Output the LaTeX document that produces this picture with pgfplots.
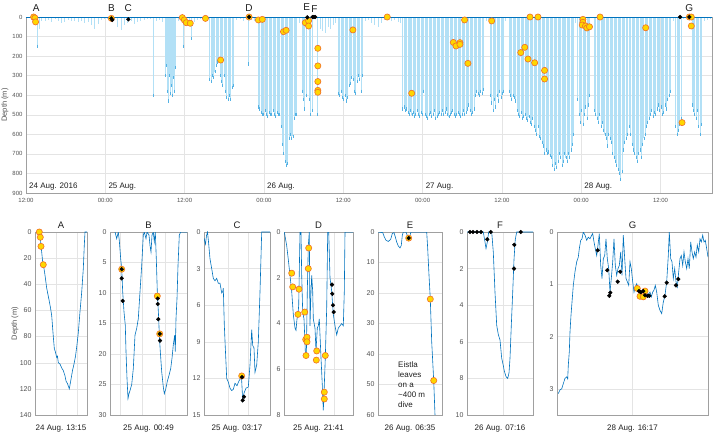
\documentclass[border=0pt]{standalone}
\usepackage{pgfplots}
\usepackage{pgfplotstable}
\pgfplotsset{compat=1.18}
\usepackage{fontspec}
\setmainfont{Liberation Sans}

\definecolor{lineblue}{RGB}{0,114,189}
\definecolor{spike}{RGB}{178,224,246}
\definecolor{spiketip}{RGB}{85,178,228}
\definecolor{myyellow}{RGB}{255,214,0}
\definecolor{myorange}{RGB}{240,110,40}
\definecolor{gridgray}{RGB}{228,228,228}
\definecolor{axgray}{RGB}{160,160,160}
\definecolor{ticktext}{RGB}{80,80,80}
\definecolor{labtext}{RGB}{30,30,30}

\pgfplotstableread{
t d
12.4 15
12.7 25
13.0 40
13.6 60
13.9 20
14.5 20
15.0 15
15.5 25
16.0 12
16.5 20
17.0 30
17.5 25
18.0 15
18.5 20
19.0 18
19.5 25
20.0 20
20.5 30
21.0 25
21.5 40
22.0 60
22.5 35
23.0 15
23.5 10
24.0 8
24.5 20
25.0 15
25.5 50
26.0 65
26.5 40
27.0 30
27.5 20
28.0 35
28.5 25
29.0 20
29.5 15
30.0 12
30.5 10
31.3 20
31.8 15
32.3 25
34.6 20
35.0 15
35.9 30
36.3 20
37.1 25
37.5 15
38.0 10
38.5 20
39.0 15
43.5 15
44.0 10
44.5 20
45.7 15
46.2 20
53.0 30
54.2 30
55.2 10
56.1 60
56.5 70
56.9 80
57.3 50
57.7 60
58.1 40
58.5 30
62.9 20
63.4 15
63.9 30
64.4 40
64.9 50
65.4 30
65.9 15
66.4 10
66.9 20
67.4 15
67.9 25
68.3 30
81.2 20
81.6 15
84.2 20
94.8 30
109.5 20
111.0 10
111.5 5
112.0 5
114.2 20
114.7 15
115.2 10
}\shallowtab

\pgfplotstableread{
t d
13.3 150
30.9 400
32.7 300
32.85 250
33.0 380
33.15 430
33.3 300
33.45 390
33.6 350
33.75 400
33.9 310
34.05 380
34.2 260
35.5 150
36.7 110
39.4 320
39.6 330
39.8 300
40.0 310
40.2 280
40.4 250
40.6 230
40.8 220
41.0 300
41.2 330
41.4 350
41.6 300
41.8 380
42.0 410
42.2 420
42.4 400
42.6 420
42.8 360
43.0 350
45.2 240
46.8 460
47.0 470
47.2 490
47.4 500
47.6 500
47.8 480
48.0 500
48.2 510
48.4 490
48.6 500
48.8 500
49.0 480
49.2 500
49.4 510
49.6 490
49.8 500
50.0 500
50.2 560
50.4 650
50.6 700
50.8 740
51.0 760
51.2 750
51.4 620
51.6 600
51.8 620
52.0 610
52.2 520
52.4 500
52.6 500
53.4 380
53.6 420
53.8 470
54.0 400
54.5 420
54.7 500
54.9 480
55.7 500
58.9 390
59.1 400
59.3 380
59.5 410
59.7 420
59.9 400
60.1 430
60.3 410
60.5 350
60.7 340
60.9 310
61.1 320
61.3 380
61.5 390
61.7 330
61.9 300
62.1 320
62.3 380
62.5 300
68.6 470
68.8 460
69.0 480
69.2 470
69.4 490
69.6 500
69.8 480
70.0 500
70.2 490
70.4 510
70.6 500
70.8 480
71.0 500
71.2 510
71.4 490
71.6 500
71.8 380
72.0 500
72.2 510
72.4 520
72.6 500
72.8 490
73.0 510
73.2 500
73.4 480
73.6 520
73.8 510
74.0 500
74.2 490
74.4 500
74.6 480
74.8 500
75.0 490
75.2 470
75.4 500
75.6 510
75.8 500
76.0 490
76.2 480
76.4 500
76.6 510
76.8 500
77.0 490
77.2 500
77.4 510
77.6 500
77.8 480
78.0 500
78.2 490
78.4 470
78.6 450
78.8 480
79.0 500
79.2 490
79.4 470
79.6 400
79.8 380
80.0 390
80.2 400
80.4 380
80.6 390
80.8 370
81.9 400
82.1 440
82.3 480
82.5 420
82.7 460
82.9 400
83.1 430
83.3 380
83.5 410
83.7 390
83.9 380
84.7 380
84.9 400
85.1 420
85.3 400
85.5 410
85.7 430
85.9 480
86.1 500
86.3 510
86.5 490
86.7 520
86.9 510
87.1 500
87.3 520
87.5 530
87.7 510
87.9 540
88.1 550
88.3 520
88.5 560
88.7 580
88.9 600
89.1 560
89.3 610
89.5 620
89.7 640
89.9 660
90.1 700
90.3 680
90.5 700
90.7 690
90.9 710
91.1 720
91.3 760
91.5 780
91.7 750
91.9 770
92.1 740
92.3 700
92.5 720
92.7 760
92.9 740
93.1 700
93.3 720
93.5 740
93.7 700
93.9 720
94.1 680
94.3 650
94.5 600
95.1 420
95.3 500
95.5 540
95.7 480
95.9 550
96.1 500
96.3 460
96.5 520
96.7 450
96.9 400
97.6 480
97.8 500
98.0 520
98.2 540
98.4 500
98.6 560
98.8 540
99.0 580
99.2 600
99.4 620
99.6 660
99.8 600
100.0 620
100.2 640
100.4 700
100.6 720
100.8 740
101.0 760
101.2 780
101.4 800
101.6 830
101.8 790
102.0 680
102.2 640
102.4 620
102.6 600
102.9 560
103.1 600
103.3 650
103.5 680
103.7 700
103.9 720
104.1 740
104.3 700
104.5 680
104.7 720
104.9 650
105.1 620
105.3 600
105.5 560
105.7 540
105.9 520
106.1 500
106.3 480
106.5 510
106.7 490
106.9 500
107.1 470
107.3 450
107.5 480
107.7 460
107.9 500
108.1 490
108.3 450
108.5 470
108.7 420
108.9 400
109.1 380
109.9 560
110.1 600
110.3 580
110.5 550
110.7 520
112.4 450
112.6 480
112.8 500
113.0 520
113.2 480
113.4 560
113.6 600
113.8 550
}\deeptab

\pgfplotstableread{
t d
12.8 0
13.0 5
13.1 25
24.56 7
35.3 3
35.6 15
35.9 29
36.5 32
38.8 7
41.1 220
45.4 0
46.8 15
47.4 12
50.6 75
51.0 68
53.9 29
54.4 19
54.4 46
55.8 160
55.8 250
55.8 330
55.8 375
55.8 385
61.1 66
66.3 0
70.0 390
76.3 130
76.7 148
77.3 131
77.3 140
78.0 15
78.5 237
82.1 20
86.5 182
87.1 155
87.6 215
87.9 0
88.6 234
89.1 0
90.1 273
90.1 317
95.9 12
95.9 27
95.8 41
96.3 46
96.5 56
96.9 50
98.5 0
105.4 55
110.9 540
112.0 0
112.3 0
112.3 46
}\topyellow

\pgfplotstableread{
t d
24.56 7
24.7 15
27.13 12
45.4 0
54.2 2
55.0 0
55.2 0
55.4 0
110.6 0
112.0 0
}\topblack

\pgfplotsset{
  every axis/.append style={
    scale only axis, y dir=reverse,
    axis line style={axgray, line width=0.4pt},
    major tick length=0pt, minor tick length=0pt,
    grid style={gridgray, line width=0.4pt},
    /pgf/number format/assume math mode=true,
  },
  ymk/.style={only marks, mark=*, mark size=3.1pt, mark options={fill=myyellow, draw=myorange, line width=0.6pt}},
  bmk/.style={only marks, mark=*, mark size=1.9pt, mark options={fill=black, draw=black}},
  prof/.style={lineblue, line width=0.6pt},
  lower/.style={
    anchor=south west, height=183pt, ymin=0, xmin=0,
    grid=major, xticklabels={},
    tick label style={font=\fontsize{7}{8}\selectfont, text=ticktext},
    every axis title/.style={at={(0.5,1)}, anchor=south, inner sep=0pt, yshift=3.5pt, font=\fontsize{9.5}{11}\selectfont, text=labtext},
    every axis x label/.style={at={(axis description cs:0.5,0)}, anchor=north, inner sep=0pt, yshift=-10pt, font=\fontsize{8}{9}\selectfont, text=labtext},
  },
}

\begin{document}
\begin{tikzpicture}
\useasboundingbox (0,0) rectangle (713pt,433pt);

% ---------------- top overview ----------------
\begin{axis}[
  at={(26pt,240pt)}, anchor=south west, width=686pt, height=176pt,
  xmin=11.65, xmax=115.43, ymin=0, ymax=900,
  xtick={11.65,23.65,35.65,47.65,59.65,71.65,83.65,95.65,107.65},
  xticklabels={12:00,00:00,12:00,00:00,12:00,00:00,12:00,00:00,12:00},
  ytick={0,100,...,900},
  grid=major, clip=false,
  tick label style={font=\fontsize{6}{7}\selectfont, text=ticktext},
  xticklabel style={yshift=-2pt},
  ylabel={Depth (m)},
  ylabel style={at={(axis description cs:-0.0306,0.5)}, anchor=center, font=\fontsize{7.5}{8}\selectfont, text=ticktext},
]
\addplot[ycomb, spike, line width=0.4pt] table {\shallowtab};
\addplot[ycomb, spike, line width=0.45pt] table {\deeptab};
\addplot[only marks, mark=|, mark size=1.6pt, mark options={spiketip, line width=0.4pt}] table {\deeptab};
\addplot[lineblue, line width=0.8pt] coordinates {(11.65,3) (115.43,3)};
\addplot[ymk] table {\topyellow};
\addplot[bmk] table {\topblack};
\foreach \lab/\tt/\dd in {A/13.2/-45, B/24.56/-45, C/27.13/-45, D/45.4/-45, E/54.1/-52, F/55.3/-40, G/112.0/-45}{
  \edef\temp{\noexpand\node[font=\noexpand\fontsize{10}{12}\noexpand\selectfont, text=labtext] at (axis cs:\tt,\dd) {\lab};}
  \temp
}
\node[anchor=west, inner sep=1pt, font=\fontsize{8}{9}\selectfont, text=labtext] at (axis cs:11.95,868) {24 Aug. 2016};
\node[anchor=west, inner sep=1pt, font=\fontsize{8}{9}\selectfont, text=labtext] at (axis cs:23.95,868) {25 Aug.};
\node[anchor=west, inner sep=1pt, font=\fontsize{8}{9}\selectfont, text=labtext] at (axis cs:47.95,868) {26 Aug.};
\node[anchor=west, inner sep=1pt, font=\fontsize{8}{9}\selectfont, text=labtext] at (axis cs:71.95,868) {27 Aug.};
\node[anchor=west, inner sep=1pt, font=\fontsize{8}{9}\selectfont, text=labtext] at (axis cs:95.95,868) {28 Aug.};
\end{axis}

% ---------------- A ----------------
\begin{axis}[lower, at={(35pt,18pt)}, width=52pt, xmax=52, ymax=140,
  ytick={0,20,...,140}, xtick={21.5,41.7}, title={A}, xlabel={24 Aug. 13:15},
  ylabel={Depth (m)},
  ylabel style={at={(axis description cs:-0.385,0.5)}, anchor=center, font=\fontsize{7.5}{8}\selectfont, text=ticktext}]
\addplot[prof] coordinates {(3,0)(4.3,1)(5,3)(6,10)(7.7,23)(9,28)(10,33)(11.7,43)(13,48)(14.3,53)(15.5,58)(16.7,64)(17.5,72)(18.3,80)(19.3,89)(20.5,92)(21.7,96)(22.5,95)(23.3,100)(25,101)(26.7,104)(28.3,106)(30,110)(31,114)(32.5,116)(34.3,120)(35.7,114)(37.5,106)(39,101)(40.5,95)(41.7,88)(43.3,77)(45,61)(46.7,46)(48.3,28)(49.3,10)(50,0)(52,0)};
\addplot[ymk] coordinates {(4.3,0)(5.3,4)(6,11)(8.3,25)};
\end{axis}

% ---------------- B ----------------
\begin{axis}[lower, at={(110pt,18pt)}, width=77pt, xmax=77, ymax=30,
  ytick={0,5,...,30}, xtick={10,32.5,55}, title={B}, xlabel={25 Aug. 00:49}]
\addplot[prof] coordinates {(5,0)(6.7,1.1)(8.3,0)(9.3,1.4)(10.7,4.4)(11.7,6)(12.7,9.8)(14,13.1)(15.3,15.3)(16,19.6)(17,24)(18,27.3)(19,26.5)(20,26)(21.7,25)(23.3,22.4)(25,16.9)(26.7,15.8)(28.3,14.2)(30,9.8)(31.7,5.5)(33.3,0.5)(34.3,0)(36,1.1)(37,0)(39,0.5)(40,2.2)(41,3.3)(42,0.5)(43.3,0)(44.3,1.6)(45.3,0)(46.3,4.4)(47.3,9.8)(48.7,14.2)(49.3,16.9)(50.3,19.6)(51.7,22.9)(53.3,25.4)(54.3,26.5)(55.7,25.8)(57.3,24.5)(59,23.5)(60.7,22.4)(62,20.7)(63.3,18.5)(64.7,16.9)(65.3,19.6)(66,14.2)(67,10.9)(68,5.5)(69.3,0.5)(70.7,0)(77,0)};
\addplot[ymk] coordinates {(11.7,6.1)(47.3,10.5)(49.7,16.7)};
\addplot[bmk] coordinates {(11.7,6.1)(11.7,7.6)(12.7,11.3)(47.7,10.9)(47.7,11.8)(48.3,14.3)(49.7,16.7)(50,17.8)};
\end{axis}

% ---------------- C ----------------
\begin{axis}[lower, at={(204pt,18pt)}, width=66pt, xmax=66, ymax=15,
  ytick={0,3,...,15}, xtick={24,44}, title={C}, xlabel={25 Aug. 03:17}]
\addplot[prof] coordinates {(0,0.5)(1.5,1)(2.5,0.3)(3.5,0)(4.5,0.8)(6,2.2)(7.7,3)(9.3,3.8)(11,4)(12.7,3.8)(14.3,4.2)(16,4.2)(17.7,5)(18.7,4.9)(19.3,4.6)(20.3,7.6)(21.3,9.5)(22.7,12)(24.3,12.3)(26,12.8)(27.7,13)(29.3,12.9)(31,12.4)(33,12.6)(35,12.2)(37.5,11.9)(38.7,13.8)(40,13.2)(42,12.8)(44.3,12.7)(46,10.9)(47.7,8)(48.7,9.3)(50,9.5)(51,11.5)(52.7,10.9)(54.3,9)(56,4.9)(57.7,0)(66,0)};
\addplot[ymk] coordinates {(37.7,11.8)};
\addplot[bmk] coordinates {(38,11.9)(38.7,13.8)(40,13.5)};
\end{axis}

% ---------------- D ----------------
\begin{axis}[lower, at={(284pt,18pt)}, width=69pt, xmax=69, ymax=8,
  ytick={0,2,...,8}, xtick={50}, title={D}, xlabel={25 Aug. 21:41}]
\addplot[prof] coordinates {(0.3,0)(2.7,0.6)(4.3,1.2)(6,1.9)(7.7,2.6)(9.3,3.6)(11,4.2)(12,4.3)(13,3.8)(14,3.6)(14.7,3.2)(15.3,1.7)(16,0)(17,0)(17.7,1.9)(18.7,3.5)(20,3.8)(21.3,5.2)(22.3,5.5)(23.3,2.6)(24.3,0.6)(25.3,0)(26,4.1)(27,2.6)(27.7,1.9)(28.7,2.6)(29.3,3.8)(31,4.2)(32,5.2)(33.3,4.2)(34.3,4.1)(35.3,3.8)(36,4.5)(37,5.5)(38.3,6.7)(39.3,7.8)(40.3,6.7)(41.3,5.5)(42.7,3.3)(43.7,0)(44.7,0)(46,2)(47.7,2.6)(49.3,3.6)(51,4.1)(52.7,4.5)(54.3,4.2)(56,4.1)(57.7,4)(59.3,4.1)(60.3,2.6)(61,0)(69,0)};
\addplot[ymk] coordinates {(7.7,1.8)(8.7,2.4)(15,2.5)(14,3.6)(20.7,3.5)(21.7,4.7)(23,4.6)(23,4.8)(22,5.4)(24.7,0.7)(24.3,1.6)(32.7,5.2)(32.3,5.6)(41.3,5.4)(40.3,7.0)(40.3,7.3)};
\addplot[bmk] coordinates {(48,2.3)(48.3,2.7)(49,3.2)(49.7,3.5)};
\end{axis}

% ---------------- E ----------------
\begin{axis}[lower, at={(378pt,18pt)}, width=64pt, xmax=64, ymax=60,
  ytick={0,10,...,60}, xtick=\empty, title={E}, xlabel={26 Aug. 06:35}]
\addplot[prof] coordinates {(0,0)(4.7,0.2)(6.3,1.6)(8,2.7)(10.3,3.1)(12.7,2.4)(14.3,0.5)(16,0.2)(17.3,1.6)(18.7,3.3)(20.3,4.6)(22,5.2)(23.3,4.4)(24.3,1.1)(25.3,0)(28,0)(29.3,1.1)(30.7,2)(32,1.1)(33,0)(48.7,0)(49.7,5.5)(51,14.2)(52.3,22)(53.7,36)(55.7,48.7)(57,60)(57.3,63)};
\addplot[ymk] coordinates {(30.7,2)(52.3,22)(55.7,48.7)};
\addplot[bmk] coordinates {(30.7,2)};
\node[align=left, anchor=north west, inner sep=0pt, font=\fontsize{8}{10}\selectfont, text=labtext] at (axis cs:20,42.5) {Eistla\\leaves\\on a\\\textasciitilde400 m\\dive};
\end{axis}

% ---------------- F ----------------
\begin{axis}[lower, at={(467pt,18pt)}, width=66pt, xmax=66, ymax=10,
  ytick={0,2,...,10}, xtick={36}, title={F}, xlabel={26 Aug. 07:16}]
\addplot[prof] coordinates {(0,0)(16.3,0)(18,0.55)(19,0.9)(20.3,0.55)(21.7,0)(24.7,0)(26.3,1.1)(28,3.3)(29.7,5.1)(31.3,5.6)(33,5.9)(34.7,6.9)(36.3,7.3)(37.3,7.6)(39,7.9)(40.7,8)(42,7.7)(43,6.9)(44.3,5.1)(45.7,3.3)(47,1.5)(48.3,0.4)(49.7,0)(66,0)};
\addplot[bmk] coordinates {(3,0)(6,0)(10,0)(14,0)(20.3,0.4)(23.7,0)(47.3,0.7)(47,2.0)(53.7,0)};
\end{axis}

% ---------------- G ----------------
\begin{axis}[lower, at={(557pt,18pt)}, width=151pt, xmax=151, ymax=3.5,
  ytick={0,1,2,3}, xtick={75}, title={G}, xlabel={28 Aug. 16:17}]
\addplot[prof] coordinates {(1.3,3.09)(3,3.02)(4.7,3.0)(6.3,2.9)(8,2.8)(9.7,2.77)(10.7,2.81)(11.3,2.55)(12.3,2.29)(13,1.91)(14,1.59)(15,1.34)(16.3,1.02)(18,0.76)(19.7,0.57)(21.3,0.48)(22.3,0.32)(23.7,0.16)(25,0.13)(26.3,0)(28,0.06)(29.7,0.16)(31.3,0.1)(33,0.13)(34.7,0.06)(35.7,0.03)(37,0.19)(38.3,0.32)(39.7,0.45)(41,0.25)(42.3,0.03)(43.7,0.64)(45,0.89)(46.3,0.51)(47.7,0.45)(49,0.13)(50.3,0.51)(51.7,0.7)(53,1.15)(54.3,0.89)(55.7,0.57)(57,0.13)(58.3,0.64)(59.7,0.83)(61,0.7)(62.3,0.64)(63.7,0.38)(65,0.83)(66.3,0.06)(67.7,0.51)(69,0.89)(70.3,0.95)(71.7,1.02)(73,0.57)(74.3,0.7)(75.7,0.95)(77,1.15)(78.3,1.05)(79.7,0.99)(81,1.08)(82.3,1.15)(83.7,1.21)(85,1.15)(86.3,1.11)(87.7,1.21)(89,1.15)(90.3,1.21)(91.7,1.18)(93,1.15)(94.3,1.24)(95.7,1.15)(97,1.11)(98.3,1.02)(99.7,1.15)(101.3,1.4)(103,1.5)(104.7,1.56)(106.3,1.34)(108,1.21)(109.7,0.95)(111.3,0.45)(112.3,0)(113.7,0.51)(115,0.57)(116.3,0.89)(117.7,0.7)(119,0.95)(120.3,1.05)(121.7,0.76)(123,0.51)(124.3,0.45)(125.7,0.64)(127,0.38)(128.3,0.57)(129.7,0.7)(131,0.51)(132.3,0.7)(133.7,0.19)(135,0.38)(136.3,0.51)(137.7,0.38)(139,0.48)(140.3,0.25)(141.7,0.38)(143,0.13)(144.3,0.19)(145.7,0.06)(147,0.19)(148.3,0.16)(149.7,0.32)(151,0.48)};
\addplot[ymk] coordinates {(80.3,1.08)(83,1.23)(86.3,1.24)(88,1.13)};
\addplot[bmk] coordinates {(40.7,0.35)(50.3,0.73)(52.3,1.22)(53.3,1.16)(60.7,0.95)(63.3,0.76)(82,1.13)(83.7,1.15)(86.3,1.13)(88,1.21)(90.7,1.22)(92.3,1.22)(107.7,1.23)(109.7,0.97)(119,1.02)(121.3,0.9)};
\end{axis}
\end{tikzpicture}
\end{document}
